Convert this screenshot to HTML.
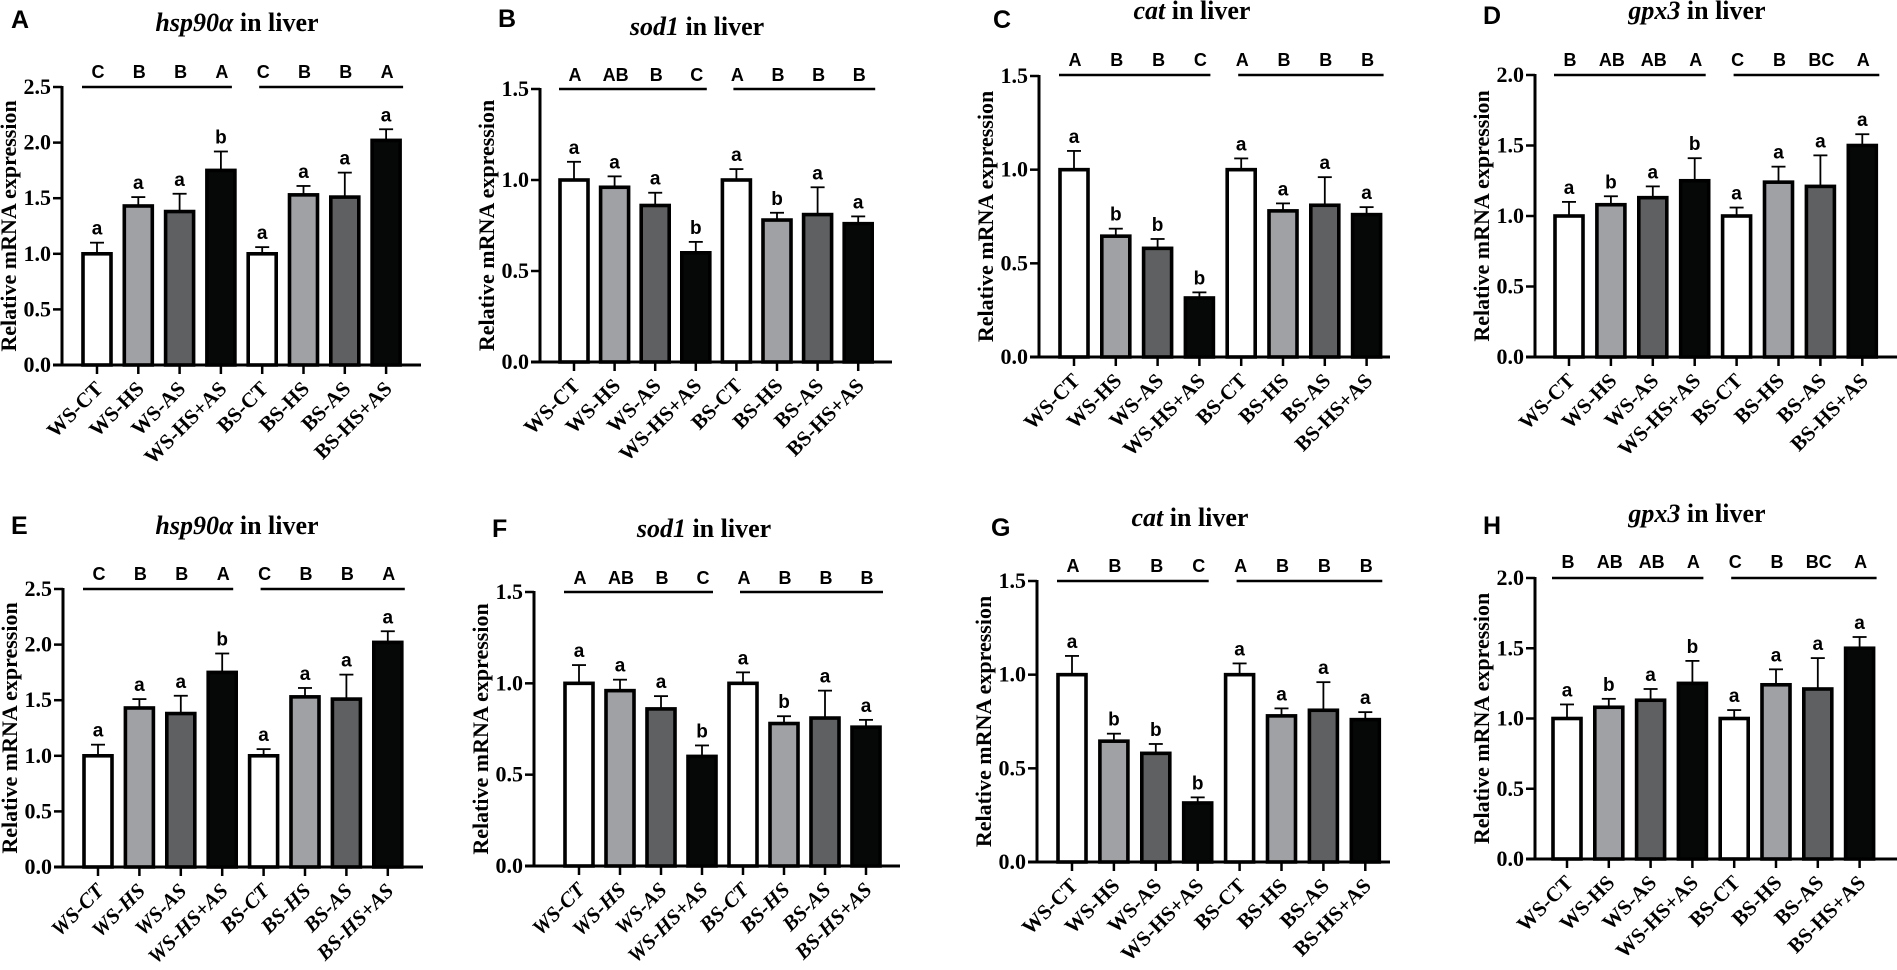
<!DOCTYPE html>
<html><head><meta charset="utf-8">
<style>
html,body{margin:0;padding:0;background:#fff;}
svg{display:block;}
.ser{font-family:"Liberation Serif",serif;font-weight:bold;}
.san{font-family:"Liberation Sans",sans-serif;font-weight:bold;}
</style></head>
<body>
<svg id="fig" width="1897" height="970" viewBox="0 0 1897 970" xmlns="http://www.w3.org/2000/svg"></svg>
<script>
const categories = ["WS-CT","WS-HS","WS-AS","WS-HS+AS","BS-CT","BS-HS","BS-AS","BS-HS+AS"];
const fills = ["#ffffff","#a0a1a5","#5f6061","#060808","#ffffff","#a0a1a5","#5f6061","#060808"];

const hspValues = [1.0,1.43,1.38,1.75,1.0,1.53,1.51,2.02];
const hspErrors = [0.10,0.08,0.16,0.17,0.06,0.08,0.22,0.10];
const hspSig = ["a","a","a","b","a","a","a","a"];
const hspGroups = ["C","B","B","A","C","B","B","A"];
const hspTicks = ["0.0","0.5","1.0","1.5","2.0","2.5"];

const sodValues = [1.0,0.96,0.86,0.60,1.0,0.78,0.81,0.76];
const sodErrors = [0.10,0.06,0.07,0.06,0.06,0.04,0.15,0.04];
const sodSig = ["a","a","a","b","a","b","a","a"];
const sodGroups = ["A","AB","B","C","A","B","B","B"];
const sodTicks = ["0.0","0.5","1.0","1.5"];

const catValues = [1.0,0.645,0.58,0.315,1.0,0.78,0.81,0.76];
const catErrors = [0.10,0.04,0.05,0.03,0.06,0.04,0.15,0.04];
const catSig = ["a","b","b","b","a","a","a","a"];
const catGroups = ["A","B","B","C","A","B","B","B"];
const catTicks = ["0.0","0.5","1.0","1.5"];

const gpxValues = [1.0,1.08,1.13,1.25,1.0,1.24,1.21,1.50];
const gpxErrors = [0.10,0.06,0.08,0.16,0.06,0.11,0.22,0.08];
const gpxSig = ["a","b","a","b","a","a","a","a"];
const gpxGroups = ["B","AB","AB","A","C","B","BC","A"];
const gpxTicks = ["0.0","0.5","1.0","1.5","2.0"];

const genes = {
  hsp:{name:"hsp90α",v:hspValues,e:hspErrors,s:hspSig,g:hspGroups,t:hspTicks},
  sod:{name:"sod1",v:sodValues,e:sodErrors,s:sodSig,g:sodGroups,t:sodTicks},
  cat:{name:"cat",v:catValues,e:catErrors,s:catSig,g:catGroups,t:catTicks},
  gpx:{name:"gpx3",v:gpxValues,e:gpxErrors,s:gpxSig,g:gpxGroups,t:gpxTicks}
};

// layout: letter, gene, axisX, y0, yTop, c0, step, axisEnd, titleX, titleY, letterX, letterY, groupY, lineY, italicLabels
const panels = [
 ["A","hsp",62,365,87,97,41.3,421,237,31,11,28,78,87,false],
 ["B","sod",540,362,89,574,40.6,892,697,35,498,27,81,89,false],
 ["C","cat",1039,357,76,1074,41.8,1390,1192,19,993,28,66,75,false],
 ["D","gpx",1535,357,75,1569,41.9,1897,1697,19,1483,24,66,75,false],
 ["E","hsp",63,867,589,98,41.4,423,237,534,11,534,580,589,true],
 ["F","sod",534,866,592,579,41.0,900,704,537,492,537,584,592,true],
 ["G","cat",1037,862,581,1072,41.9,1390,1190,526,991,536,572,581,false],
 ["H","gpx",1535,859,578,1567,41.8,1897,1697,522,1483,534,568,578,false]
];

const NS="http://www.w3.org/2000/svg";
const svg=document.getElementById("fig");
function mk(tag,attrs,parent,text){
  const el=document.createElementNS(NS,tag);
  for(const k in attrs) el.setAttribute(k,attrs[k]);
  if(text!==undefined) el.textContent=text;
  parent.appendChild(el);
  return el;
}

panels.forEach(p=>{
  const [L,gk,ax,y0,yTop,c0,step,axEnd,tx,ty,lx,ly,gy,lineY,ital]=p;
  const G=genes[gk];
  const ymax=parseFloat(G.t[G.t.length-1]);
  const yS=v=>y0-(v/ymax)*(y0-yTop);
  const xS=i=>c0+i*step;
  const g=mk("g",{},svg);
  
  

  const pl=mk("text",{x:lx,y:ly,"font-size":25,class:"san"},g,L);
  
  

  const t=mk("text",{x:tx,y:ty,"font-size":26,class:"ser","text-anchor":"middle"},g);
  
  
  mk("tspan",{"font-style":"italic"},t,G.name);
  mk("tspan",{},t," in liver");

  G.v.forEach((v,i)=>{
    const cx=xS(i), top=yS(v), w=28;
    const eb=mk("line",{x1:cx,x2:cx,y1:top,y2:yS(v+G.e[i]),stroke:"#000","stroke-width":1.8},g);
    
    
    const cap=mk("line",{x1:cx-7,x2:cx+7,y1:yS(v+G.e[i]),y2:yS(v+G.e[i]),stroke:"#000","stroke-width":1.8},g);
    
    
    const r=mk("rect",{x:cx-w/2,y:top,width:w,height:y0-top,fill:fills[i],stroke:"#000","stroke-width":3.6},g);
    
    
    const s=mk("text",{x:cx,y:yS(v+G.e[i])-8,"font-size":19,class:"san","text-anchor":"middle"},g,G.s[i]);
    
    
    const gl=mk("text",{x:cx+1,y:gy,"font-size":18,class:"san","text-anchor":"middle"},g,G.g[i]);
    
    
    const tk=mk("line",{x1:cx,x2:cx,y1:y0,y2:y0+9,stroke:"#000","stroke-width":2.5},g);
    
    
    const xl=mk("text",{x:0,y:0,"font-size":21,class:"ser","text-anchor":"end",
      transform:`translate(${cx+7},${y0+25}) rotate(-45)`,"font-style":ital?"italic":"normal"},g,categories[i]);
    
    
  });

  const l1=mk("line",{x1:xS(0)-15,x2:xS(3)+11,y1:lineY,y2:lineY,stroke:"#000","stroke-width":2.5},g);
  
  
  const l2=mk("line",{x1:xS(4)-3,x2:xS(7)+17,y1:lineY,y2:lineY,stroke:"#000","stroke-width":2.5},g);
  
  

  const ya=mk("line",{x1:ax,x2:ax,y1:yTop-1,y2:y0+1.5,stroke:"#000","stroke-width":3},g);
  
  
  const xa=mk("line",{x1:ax-9,x2:axEnd,y1:y0,y2:y0,stroke:"#000","stroke-width":3},g);
  
  
  G.t.forEach(tv=>{
    const y=yS(parseFloat(tv));
    const tk=mk("line",{x1:ax-9,x2:ax,y1:y,y2:y,stroke:"#000","stroke-width":2.5},g);
    
    
    const tl=mk("text",{x:ax-11,y:y+7,"font-size":22,class:"ser","text-anchor":"end"},g,tv);
    
    
  });
  const yl=mk("text",{x:0,y:0,"font-size":22,class:"ser","text-anchor":"middle",
    transform:`translate(${ax-46},${(y0+yTop)/2}) rotate(-90)`},g,"Relative mRNA expression");
  
  
});
</script>
</body></html>
